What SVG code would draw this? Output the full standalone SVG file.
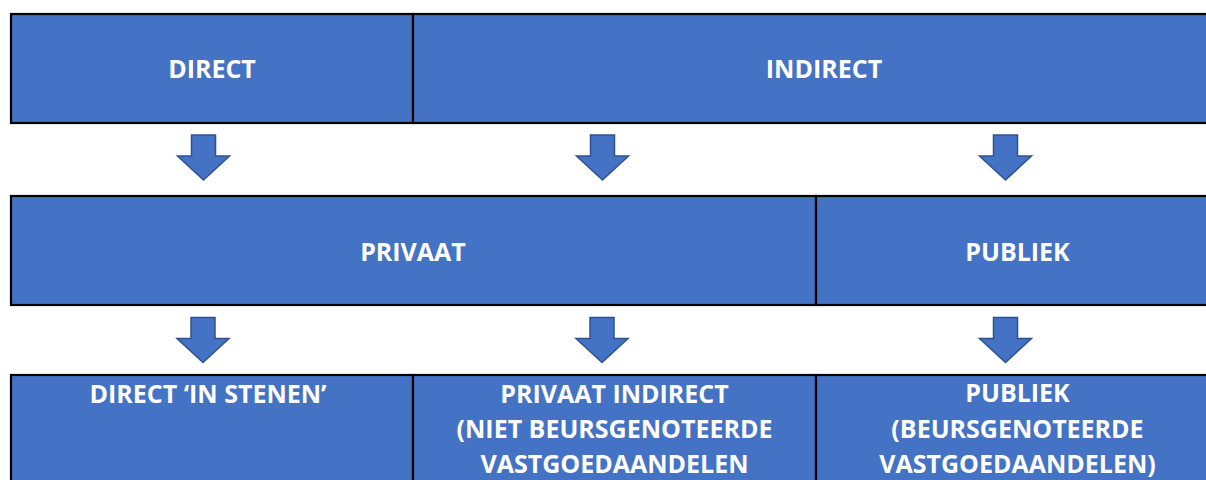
<svg xmlns="http://www.w3.org/2000/svg" width="1206" height="480" viewBox="0 0 1206 480">
<style>
.cell{fill:#4472C4;stroke:#000;stroke-width:2.2}
.lbl{fill:#fff;font-family:"Open Sans","Liberation Sans",sans-serif;font-weight:700;font-size:25px;text-anchor:middle}
.arr{fill:#4472C4;stroke:#2F528F;stroke-width:1.5;stroke-linejoin:miter}
</style>
<rect x="0" y="0" width="1206" height="480" fill="#fff"/>
<g id="direct"><rect class="cell" x="11" y="14" width="402" height="109"/><text class="lbl" x="212" y="78">DIRECT</text></g>
<g id="indirect"><rect class="cell" x="413" y="14" width="822" height="109"/><text class="lbl" x="824" y="78">INDIRECT</text></g>
<g id="privaat"><rect class="cell" x="11" y="196" width="805" height="109"/><text class="lbl" x="413" y="261">PRIVAAT</text></g>
<g id="publiek"><rect class="cell" x="816" y="196" width="403" height="109"/><text class="lbl" x="1017.5" y="261">PUBLIEK</text></g>
<g id="direct-stenen"><rect class="cell" x="11" y="375" width="402" height="130"/><text class="lbl" x="208" y="403">DIRECT ‘IN STENEN’</text></g>
<g id="privaat-indirect"><rect class="cell" x="413" y="375" width="403" height="130"/><text class="lbl" x="614.5" y="403">PRIVAAT INDIRECT</text><text class="lbl" x="614.5" y="438">(NIET BEURSGENOTEERDE</text><text class="lbl" x="614.5" y="473">VASTGOEDAANDELEN</text></g>
<g id="publiek-beurs"><rect class="cell" x="816" y="375" width="403" height="130"/><text class="lbl" x="1017.5" y="402">PUBLIEK</text><text class="lbl" x="1017.5" y="438">(BEURSGENOTEERDE</text><text class="lbl" x="1017.5" y="473">VASTGOEDAANDELEN)</text></g>
<g id="connectors">
<path class="arr" d="M191.5,135 H215.5 V156 H229.5 L203.5,180 L177.5,156 H191.5 Z"/>
<path class="arr" d="M590.5,135 H614.5 V156 H628.5 L602.5,180 L576.5,156 H590.5 Z"/>
<path class="arr" d="M993.5,135 H1017.5 V156 H1031.5 L1005.5,180 L979.5,156 H993.5 Z"/>
<path class="arr" d="M191,317.5 H215 V338.5 H229 L203,362.5 L177,338.5 H191 Z"/>
<path class="arr" d="M590,317.5 H614 V338.5 H628 L602,362.5 L576,338.5 H590 Z"/>
<path class="arr" d="M993.5,317.5 H1017.5 V338.5 H1031.5 L1005.5,362.5 L979.5,338.5 H993.5 Z"/>
</g>
</svg>
